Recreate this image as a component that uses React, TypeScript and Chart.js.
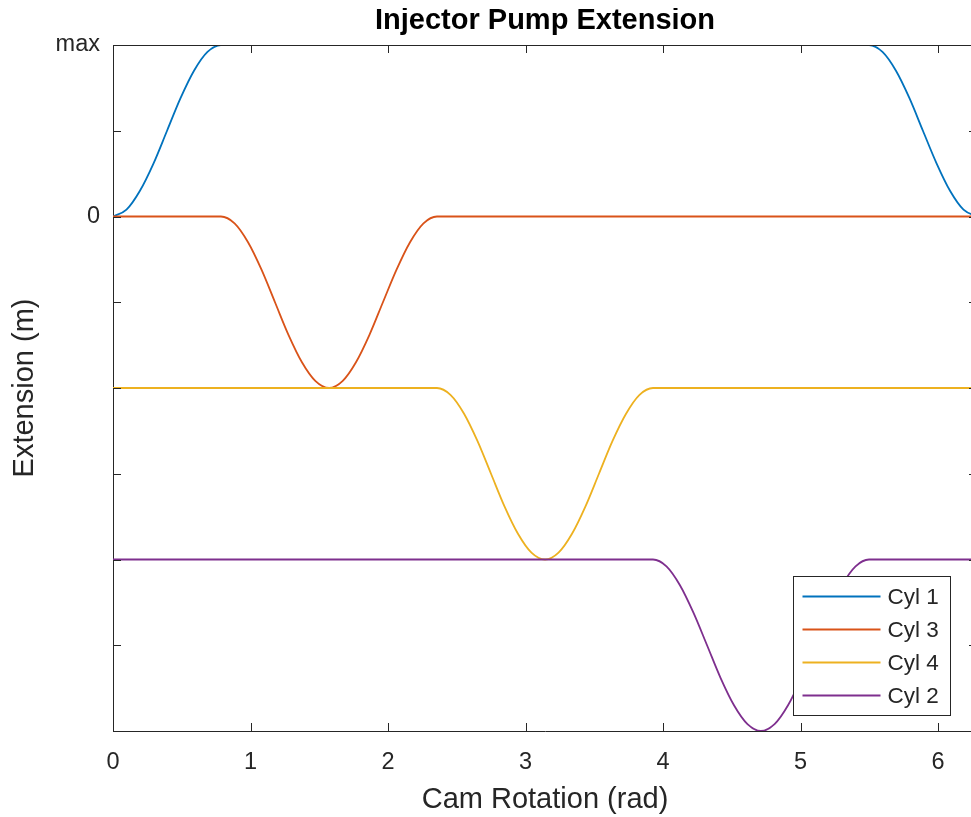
import React, { useEffect, useRef } from 'react';
import { Chart, registerables } from 'chart.js';

Chart.register(...registerables);

// ---- data ----
const seriesLabels = ['Cyl 1', 'Cyl 3', 'Cyl 4', 'Cyl 2'];
const seriesColors = ['#0072BD', '#D95319', '#EDB120', '#7E2F8E'];

const cyl1X = [0, 0.098, 0.196, 0.295, 0.393, 0.491, 0.589, 0.687, 0.785, 5.498, 5.596, 5.694, 5.792, 5.89, 5.989, 6.087, 6.185, 6.283];
const cyl1Y = [0, 0.04, 0.15, 0.31, 0.5, 0.69, 0.85, 0.96, 1, 1, 0.96, 0.85, 0.69, 0.5, 0.31, 0.15, 0.04, 0];

const cyl3X = [0, 0.785, 0.884, 0.982, 1.08, 1.178, 1.276, 1.374, 1.473, 1.571, 1.669, 1.767, 1.865, 1.963, 2.062, 2.16, 2.258, 2.356, 6.283];
const cyl3Y = [0, 0, -0.04, -0.15, -0.31, -0.5, -0.69, -0.85, -0.96, -1, -0.96, -0.85, -0.69, -0.5, -0.31, -0.15, -0.04, 0, 0];

const cyl4X = [0, 2.356, 2.454, 2.553, 2.651, 2.749, 2.847, 2.945, 3.043, 3.142, 3.24, 3.338, 3.436, 3.534, 3.632, 3.731, 3.829, 3.927, 6.283];
const cyl4Y = [-1, -1, -1.04, -1.15, -1.31, -1.5, -1.69, -1.85, -1.96, -2, -1.96, -1.85, -1.69, -1.5, -1.31, -1.15, -1.04, -1, -1];

const cyl2X = [0, 3.927, 4.025, 4.123, 4.221, 4.32, 4.418, 4.516, 4.614, 4.712, 4.811, 4.909, 5.007, 5.105, 5.203, 5.301, 5.4, 5.498, 6.283];
const cyl2Y = [-2, -2, -2.04, -2.15, -2.31, -2.5, -2.69, -2.85, -2.96, -3, -2.96, -2.85, -2.69, -2.5, -2.31, -2.15, -2.04, -2, -2];

const xTickValues = [0, 1, 2, 3, 4, 5, 6];
const xTickLabels = ['0', '1', '2', '3', '4', '5', '6'];
const yTickValues = [1, 0.5, 0, -0.5, -1, -1.5, -2, -2.5, -3];
const yTickLabels = ['max', '', '0', '', '', '', '', '', ''];

const X_MIN = 0;
const X_MAX = 6.2832;
const Y_MIN = -3;
const Y_MAX = 1;

const titleText = 'Injector Pump Extension';
const xTitle = 'Cam Rotation (rad)';
const yTitle = 'Extension (m)';

// ---- styles ----
const FONT = '"Liberation Sans", Arial, Helvetica, sans-serif';
const AXIS_COLOR = '#262626';
const TICK_LEN = 8;

const pairs = (xs: number[], ys: number[]) => xs.map((x, i) => ({ x, y: ys[i] }));

const matlabBox = {
  id: 'matlabBox',
  afterDraw(chart: any) {
    const { ctx, chartArea: a, scales } = chart;
    const xs = scales.x;
    const ys = scales.y;
    ctx.save();
    ctx.strokeStyle = AXIS_COLOR;
    ctx.lineWidth = 1;
    // top and right border
    ctx.beginPath();
    ctx.moveTo(a.left, Math.round(a.top) + 0.5);
    ctx.lineTo(a.right, Math.round(a.top) + 0.5);
    ctx.lineTo(a.right, a.bottom);
    ctx.stroke();
    // inward ticks
    ctx.beginPath();
    xs.ticks.forEach((t: any) => {
      const px = Math.round(xs.getPixelForValue(t.value)) + 0.5;
      ctx.moveTo(px, a.bottom);
      ctx.lineTo(px, a.bottom - TICK_LEN);
      ctx.moveTo(px, a.top);
      ctx.lineTo(px, a.top + TICK_LEN);
    });
    ys.ticks.forEach((t: any) => {
      const py = Math.round(ys.getPixelForValue(t.value)) + 0.5;
      ctx.moveTo(a.left, py);
      ctx.lineTo(a.left + TICK_LEN, py);
      ctx.moveTo(a.right, py);
      ctx.lineTo(a.right - TICK_LEN, py);
    });
    ctx.stroke();

    // legend (south-east, inside the axes)
    const boxW = 157;
    const boxH = 139;
    const bx = Math.round(a.right - 27 - boxW) + 0.5;
    const by = Math.round(a.bottom - 16 - boxH) + 0.5;
    ctx.fillStyle = '#ffffff';
    ctx.fillRect(bx, by, boxW, boxH);
    ctx.strokeStyle = AXIS_COLOR;
    ctx.lineWidth = 1;
    ctx.strokeRect(bx, by, boxW, boxH);
    ctx.font = `22.5px ${FONT}`;
    ctx.textBaseline = 'middle';
    ctx.textAlign = 'left';
    chart.data.datasets.forEach((ds: any, i: number) => {
      const ry = by + 20 + i * 33;
      ctx.strokeStyle = ds.borderColor;
      ctx.lineWidth = 1.8;
      ctx.beginPath();
      ctx.moveTo(bx + 9, ry);
      ctx.lineTo(bx + 87, ry);
      ctx.stroke();
      ctx.fillStyle = AXIS_COLOR;
      ctx.fillText(ds.label, bx + 94, ry + 1);
    });
    ctx.restore();
  },
};

export default function App() {
  const ref = useRef<HTMLCanvasElement | null>(null);

  useEffect(() => {
    if (!ref.current) return;
    const seriesX = [cyl1X, cyl3X, cyl4X, cyl2X];
    const seriesY = [cyl1Y, cyl3Y, cyl4Y, cyl2Y];
    const chart = new Chart(ref.current, {
      type: 'line',
      data: {
        datasets: seriesLabels.map((label, i) => ({
          label,
          data: pairs(seriesX[i], seriesY[i]),
          borderColor: seriesColors[i],
          backgroundColor: seriesColors[i],
          borderWidth: 1.8,
          pointRadius: 0,
          fill: false,
          cubicInterpolationMode: 'monotone' as const,
          order: seriesLabels.length - i,
        })),
      },
      options: {
        responsive: false,
        animation: false,
        devicePixelRatio: 1,
        layout: { padding: { left: 0, right: 6, top: 0, bottom: 0 } },
        plugins: {
          legend: { display: false },
          tooltip: { enabled: false },
          title: {
            display: true,
            text: titleText,
            fullSize: false,
            color: '#000000',
            font: { family: FONT, size: 29, weight: 'bold', lineHeight: 0.9 },
            padding: { top: 0, bottom: 10.9 },
          },
        },
        scales: {
          x: {
            type: 'linear',
            min: X_MIN,
            max: X_MAX,
            afterBuildTicks: (s: any) => {
              s.ticks = xTickValues.map((v) => ({ value: v }));
            },
            afterFit: (s: any) => {
              s.height = 86;
            },
            ticks: {
              autoSkip: false,
              maxRotation: 0,
              includeBounds: false,
              padding: 17,
              color: AXIS_COLOR,
              font: { family: FONT, size: 23.5 },
              callback: (v: any) => {
                const k = xTickValues.indexOf(Number(v));
                return k >= 0 ? xTickLabels[k] : '';
              },
            },
            grid: { display: false, drawTicks: false },
            border: { display: true, color: AXIS_COLOR, width: 1 },
            title: {
              display: true,
              text: xTitle,
              color: AXIS_COLOR,
              font: { family: FONT, size: 29 },
              padding: { top: 0, bottom: 0 },
            },
          },
          y: {
            type: 'linear',
            min: Y_MIN,
            max: Y_MAX,
            afterBuildTicks: (s: any) => {
              s.ticks = yTickValues.map((v) => ({ value: v }));
            },
            afterFit: (s: any) => {
              s.width = 105;
            },
            ticks: {
              autoSkip: false,
              includeBounds: false,
              padding: 13,
              color: AXIS_COLOR,
              font: { family: FONT, size: 23.5 },
              callback: (v: any) => {
                const k = yTickValues.indexOf(Number(v));
                return k >= 0 ? yTickLabels[k] : '';
              },
            },
            grid: { display: false, drawTicks: false },
            border: { display: true, color: AXIS_COLOR, width: 1 },
            title: {
              display: true,
              text: yTitle,
              color: AXIS_COLOR,
              font: { family: FONT, size: 29 },
              padding: { top: 0, bottom: 0 },
            },
          },
        },
      },
      plugins: [matlabBox],
    } as any);
    return () => chart.destroy();
  }, []);

  return (
    <div
      style={{
        position: 'fixed',
        left: 8,
        top: 8,
        width: 963,
        height: 809,
        overflow: 'hidden',
        background: '#ffffff',
      }}
    >
      <canvas ref={ref} width={975} height={809} style={{ display: 'block' }} />
    </div>
  );
}
